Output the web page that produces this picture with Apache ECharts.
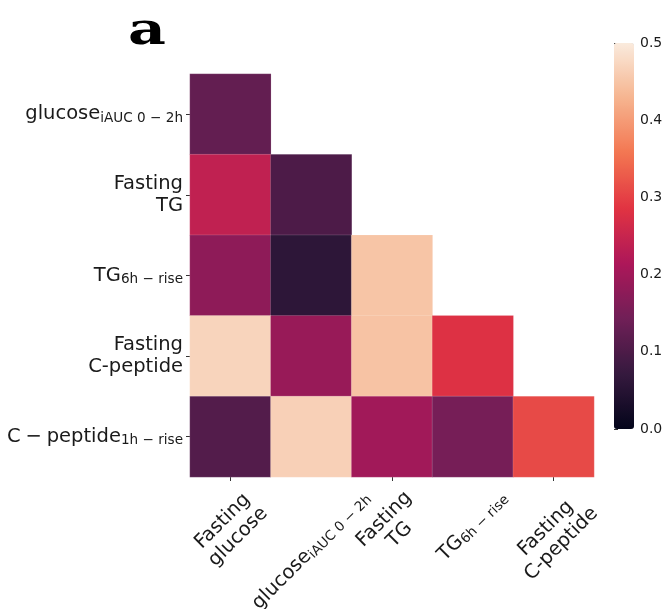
<!DOCTYPE html>
<html>
<head>
<meta charset="utf-8">
<script src="https://cdn.jsdelivr.net/npm/echarts@6/dist/echarts.min.js"></script>
<style>
  html, body { margin: 0; padding: 0; background: #fff; }
  #chart { width: 668px; height: 609px; }
</style>
</head>
<body>
<div id="chart"></div>
<script>
// column / row names (plain) and their label markup
var xNames = ['Fasting glucose', 'glucose iAUC 0-2h', 'Fasting TG', 'TG 6h-rise', 'Fasting C-peptide'];
var yNames = ['glucose iAUC 0-2h', 'Fasting TG', 'TG 6h-rise', 'Fasting C-peptide', 'C-peptide 1h-rise'];
var xLabels = ['Fasting\nglucose', 'glucose{s|iAUC 0 \u2212 2h}', 'Fasting\nTG', 'TG{s|6h \u2212 rise}', 'Fasting\nC-peptide'];
var yLabels = ['glucose{s|iAUC 0 \u2212 2h}', 'Fasting\nTG', 'TG{s|6h \u2212 rise}', 'Fasting\nC-peptide', 'C\u2005\u2212\u2005peptide{s|1h \u2212 rise}'];

var rowGlucoseIAUC  = [0.127];
var rowFastingTG    = [0.24, 0.10];
var rowTG6hRise     = [0.178, 0.06, 0.45];
var rowFastingCpep  = [0.47, 0.19, 0.448, 0.28];
var rowCpep1hRise   = [0.108, 0.465, 0.20, 0.15, 0.31];
var rows = [rowGlucoseIAUC, rowFastingTG, rowTG6hRise, rowFastingCpep, rowCpep1hRise];

var cbarTicks = [0, 0.1, 0.2, 0.3, 0.4, 0.5];

// seaborn "rocket"
var rocket = ['#03051a', '#35193e', '#701f57', '#ad1759', '#e13342', '#f37651', '#f6b48f', '#faebdd'];

var heat = [];
rows.forEach(function (r, i) {
  r.forEach(function (v, j) { heat.push([j, i, v]); });
});

// layout
var G = { left: 190, top: 74, width: 404, height: 403 };
var FONT = '"DejaVu Sans", sans-serif';
var FS = 19.5, SUB = 13.6, LH = 22;
var TXT = '#1a1a1a';
var richStyles = {
  s: { fontSize: SUB, fontFamily: FONT, color: TXT, lineHeight: 11, verticalAlign: 'bottom' }
};

// measure label boxes (used to centre the rotated x labels under their ticks)
var ctx = document.createElement('canvas').getContext('2d');
function textW(t, size) { ctx.font = size + 'px ' + FONT; return ctx.measureText(t).width; }
function labelBox(markup) {
  var lines = markup.split('\n');
  var w = 0;
  lines.forEach(function (ln) {
    var lw = 0;
    ln.replace(/\{s\|([^}]*)\}|([^{]+)/g, function (m, sub, main) {
      if (sub) lw += textW(sub, SUB); else lw += textW(main, FS);
      return m;
    });
    w = Math.max(w, lw);
  });
  return { w: w, h: lines.length * LH };
}

var chart = echarts.init(document.getElementById('chart'));
chart.setOption({
  animation: false,
  backgroundColor: '#fff',
  grid: [
    { left: G.left, top: G.top, width: G.width, height: G.height, containLabel: false, outerBoundsMode: 'none' },
    { left: 614, top: 43, width: 20, height: 386, containLabel: false, outerBoundsMode: 'none' }
  ],
  xAxis: [{
    type: 'category',
    data: xNames,
    gridIndex: 0,
    axisLine: { show: false },
    axisTick: { show: true, alignWithLabel: true, length: 4, lineStyle: { color: '#333', width: 1 } },
    splitLine: { show: false },
    axisLabel: { show: false }
  }, {
    type: 'value', gridIndex: 1, show: false
  }],
  yAxis: [{
    type: 'category',
    data: yNames,
    inverse: true,
    gridIndex: 0,
    axisLine: { show: false },
    axisTick: { show: true, alignWithLabel: true, length: 4, lineStyle: { color: '#333', width: 1 } },
    splitLine: { show: false },
    axisLabel: {
      interval: 0,
      margin: 7,
      fontSize: FS,
      lineHeight: LH,
      fontFamily: FONT,
      color: TXT,
      align: 'right',
      formatter: function (v, i) { return yLabels[i]; },
      rich: richStyles
    }
  }, {
    type: 'value',
    gridIndex: 1,
    position: 'right',
    min: 0, max: 0.5, interval: 0.1,
    axisLine: { show: false },
    axisTick: { show: true, length: 4, lineStyle: { color: '#333' } },
    splitLine: { show: false },
    axisLabel: {
      margin: 6, fontSize: 14, fontFamily: FONT, color: TXT,
      formatter: function (v) { return cbarTicks.indexOf(Math.round(v * 10) / 10) >= 0 ? v.toFixed(1) : ''; }
    }
  }],
  visualMap: {
    type: 'continuous',
    seriesIndex: 0,
    min: 0, max: 0.5,
    orient: 'vertical',
    left: 614, top: 43,
    itemWidth: 20, itemHeight: 386,
    padding: 0,
    calculable: false,
    showLabel: false,
    text: null,
    inRange: { color: rocket }
  },
  series: [{
    type: 'heatmap',
    xAxisIndex: 0, yAxisIndex: 0,
    data: heat,
    itemStyle: { borderColor: 'rgba(255,255,255,0.25)', borderWidth: 0.6 },
    emphasis: { disabled: true }
  }]
});

// rotated x labels: axis-aligned box of the rotated text centred on the tick, top just below the ticks
var boxTop = G.top + G.height + 10;
var xTexts = xNames.map(function (n, k) {
  var b = labelBox(xLabels[k]);
  var H = Math.SQRT1_2 * (b.w + b.h);
  var px = chart.convertToPixel({ xAxisIndex: 0 }, n);
  return {
    type: 'text',
    x: px, y: boxTop + H / 2,
    rotation: Math.PI / 4,
    silent: true,
    style: {
      text: xLabels[k],
      fontSize: FS, fontFamily: FONT, lineHeight: LH, fill: TXT,
      align: 'center', verticalAlign: 'middle',
      rich: richStyles
    }
  };
});

chart.setOption({
  graphic: [{
    type: 'text',
    x: 128, y: 10,
    scaleX: 1.3,
    silent: true,
    style: { text: 'a', fontSize: 45, fontWeight: 'bold', fontFamily: '"DejaVu Serif", serif', fill: '#000' }
  }].concat(xTexts)
});
</script>
</body>
</html>
